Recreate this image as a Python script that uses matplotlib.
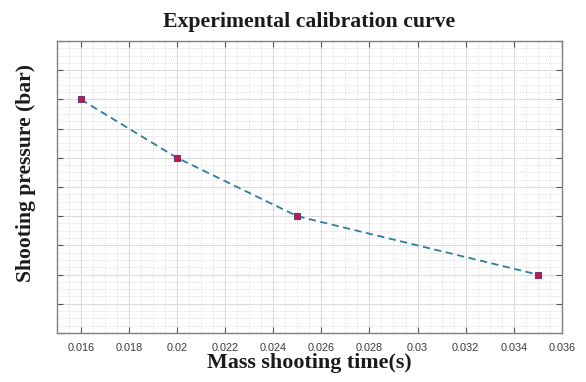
import matplotlib
matplotlib.use("Agg")
import matplotlib.pyplot as plt
from matplotlib.ticker import MultipleLocator, NullFormatter

# Calibration points
shooting_time = [0.016, 0.020, 0.025, 0.035]
shooting_pressure = [8, 6, 4, 2]
x_ticks = [0.016, 0.018, 0.02, 0.022, 0.024, 0.026, 0.028, 0.03, 0.032, 0.034, 0.036]
x_tick_labels = ["0.016", "0.018", "0.02", "0.022", "0.024", "0.026",
                 "0.028", "0.03", "0.032", "0.034", "0.036"]

fig = plt.figure(figsize=(5.86, 3.82), dpi=100)
ax = fig.add_axes([0.0968, 0.1283, 0.862, 0.7644])

ax.plot(shooting_time, shooting_pressure, linestyle=(0, (4, 2.5)), color="#2f7c9c",
        linewidth=1.3, marker="s", markersize=4.5, markerfacecolor="#c8174a",
        markeredgecolor="#6a3a78", markeredgewidth=0.8, zorder=3)

ax.set_xlim(0.015, 0.036)
ax.set_ylim(0, 10)
ax.set_xticks(x_ticks)
ax.set_xticklabels(x_tick_labels)
ax.yaxis.set_major_locator(MultipleLocator(1))
ax.yaxis.set_major_formatter(NullFormatter())
ax.xaxis.set_minor_locator(MultipleLocator(0.0005))
ax.yaxis.set_minor_locator(MultipleLocator(0.25))

ax.grid(which="major", color="#dcdcdc", linewidth=0.8, linestyle="-")
ax.grid(which="minor", color="#d4d4d4", linewidth=0.6, linestyle=(0, (1, 1.5)))
ax.set_axisbelow(True)

ax.tick_params(which="major", direction="in", length=4, width=0.8, color="#555555",
               top=True, right=True, labelsize=7.8, labelcolor="#3a3a3a", pad=7)
ax.tick_params(which="minor", length=0)
for lbl in ax.get_xticklabels():
    lbl.set_fontfamily("Liberation Sans")
for sp in ax.spines.values():
    sp.set_color("#808080")
    sp.set_linewidth(1.0)

serif = "Liberation Serif"
ax.set_title("Experimental calibration curve", fontfamily=serif, fontweight="bold",
             fontsize=15.7, color="#1a1a1a", pad=10)
ax.set_xlabel("Mass shooting time(s)", fontfamily=serif, fontweight="bold",
              fontsize=15.8, color="#1a1a1a", labelpad=0)
ax.set_ylabel("Shooting pressure (bar)", fontfamily=serif, fontweight="bold",
              fontsize=15.6, color="#1a1a1a")
ax.yaxis.set_label_coords(-0.042, 0.548)

fig.savefig("out.png", dpi=100, facecolor="white")
